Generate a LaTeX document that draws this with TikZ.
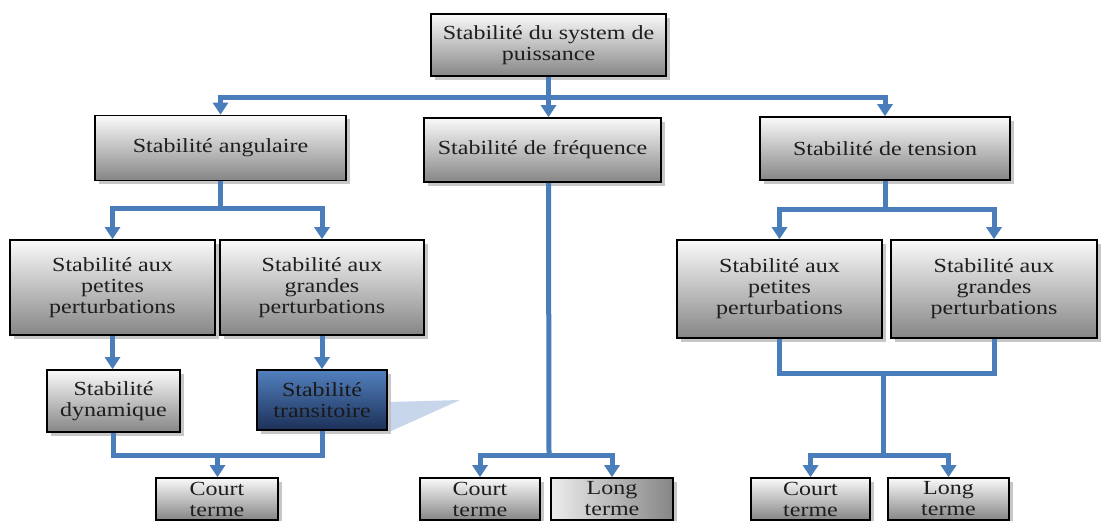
\documentclass[tikz,border=0pt]{standalone}
\usepackage{fontspec}
\setmainfont{Liberation Serif}[FakeStretch=1.2]
\usetikzlibrary{arrows.meta,shadows}
\definecolor{conn}{RGB}{74,126,187}
\definecolor{txt}{RGB}{30,30,30}
\definecolor{tri}{RGB}{200,214,236}
\definecolor{bluetop}{RGB}{82,128,190}
\definecolor{bluebot}{RGB}{28,48,88}
\tikzset{
  box/.style={draw=black, line width=1.6pt, top color=gray!4, bottom color=gray!95,
    align=center, inner sep=0pt, text=txt,
    font=\fontsize{20}{21}\selectfont,
    drop shadow={shadow xshift=3.5pt, shadow yshift=-3.5pt, fill=gray!55, opacity=0.8}},
  bluebox/.style={box, top color=bluetop, bottom color=bluebot, text=black!90},
  darkbox/.style={box, left color=gray!15, right color=gray!95},
  conn/.style={draw=conn, line width=5pt},
  arr/.style={conn, -{Triangle[width=15pt,length=12pt]}},
}
\begin{document}
\begin{tikzpicture}[x=1pt,y=-1pt]
\useasboundingbox (0,0) rectangle (1102,520);
\clip (0,0) rectangle (1102,520);
\fill[white] (0,0) rectangle (1102,520);
% triangle decoration
\fill[tri] (389,402) -- (460,400) -- (389,432) -- cycle;
% nodes
\node[box, minimum width=235, minimum height=62] (top) at (548.5,45) {Stabilité du system de\\puissance};
\node[box, minimum width=251, minimum height=65] (ang) at (220.5,148) {Stabilité angulaire};
\node[box, minimum width=237, minimum height=64] (freq) at (542.5,150) {Stabilité de fréquence};
\node[box, minimum width=250, minimum height=63] (tens) at (885,148.5) {Stabilité de tension};
\node[box, minimum width=205, minimum height=95] (pA) at (112.5,287.5) {Stabilité aux\\petites\\perturbations};
\node[box, minimum width=204, minimum height=95] (gA) at (322,287.5) {Stabilité aux\\grandes\\perturbations};
\node[box, minimum width=133, minimum height=62] (dyn) at (113.5,401) {Stabilité\\dynamique};
\node[bluebox, minimum width=130, minimum height=60] (trans) at (322,400) {Stabilité\\transitoire};
\node[box, minimum width=122, minimum height=42] (ctA) at (217,499) {Court\\terme};
\node[box, minimum width=120, minimum height=42] (ctF) at (480,499) {Court\\terme};
\node[darkbox, minimum width=122, minimum height=42] (ltF) at (612,499) {Long\\terme};
\node[box, minimum width=205, minimum height=98] (pT) at (779.5,289) {Stabilité aux\\petites\\perturbations};
\node[box, minimum width=206, minimum height=98] (gT) at (994,289) {Stabilité aux\\grandes\\perturbations};
\node[box, minimum width=119, minimum height=42] (ctT) at (810.5,499) {Court\\terme};
\node[box, minimum width=121, minimum height=42] (ltT) at (948.5,499) {Long\\terme};
% bus coordinates
\coordinate (b1) at (548.5,97);
\coordinate (b2) at (220.5,208);
\coordinate (b3) at (217.5,455);
\coordinate (b4) at (549,455);
\coordinate (b5) at (885,209);
\coordinate (b6) at (883,373);
\coordinate (b7) at (883,455);
% top level
\draw[conn] (top.south) -- (b1);
\draw[conn, line cap=rect] (b1 -| ang.north) -- (b1 -| tens.north);
\draw[arr] (b1 -| ang.north) -- (ang.north);
\draw[arr] (b1) -- (b1 |- freq.north);
\draw[arr] (b1 -| tens.north) -- (tens.north);
% angulaire
\draw[conn] (ang.south) -- (b2);
\draw[conn, line cap=rect] (b2 -| pA.north) -- (b2 -| gA.north);
\draw[arr] (b2 -| pA.north) -- (pA.north);
\draw[arr] (b2 -| gA.north) -- (gA.north);
\draw[arr] (pA.south) -- (pA.south |- dyn.north);
\draw[arr] (gA.south) -- (trans.north);
\draw[conn] (dyn.south) -- (dyn.south |- b3) -- (b3 -| trans.south) -- (trans.south);
\draw[arr] (b3) -- (b3 |- ctA.north);
% frequence
\draw[conn] (b1 |- freq.south) -- (b4);
\draw[conn, line cap=rect] (b4 -| ctF.north) -- (b4 -| ltF.north);
\draw[arr] (b4 -| ctF.north) -- (ctF.north);
\draw[arr] (b4 -| ltF.north) -- (ltF.north);
% tension
\draw[conn] (tens.south) -- (b5);
\draw[conn, line cap=rect] (b5 -| pT.north) -- (b5 -| gT.north);
\draw[arr] (b5 -| pT.north) -- (pT.north);
\draw[arr] (b5 -| gT.north) -- (gT.north);
\draw[conn] (pT.south) -- (pT.south |- b6) -- (b6 -| gT.south) -- (gT.south);
\draw[conn] (b6) -- (b7);
\draw[conn, line cap=rect] (b7 -| ctT.north) -- (b7 -| ltT.north);
\draw[arr] (b7 -| ctT.north) -- (ctT.north);
\draw[arr] (b7 -| ltT.north) -- (ltT.north);
\end{tikzpicture}
\end{document}
